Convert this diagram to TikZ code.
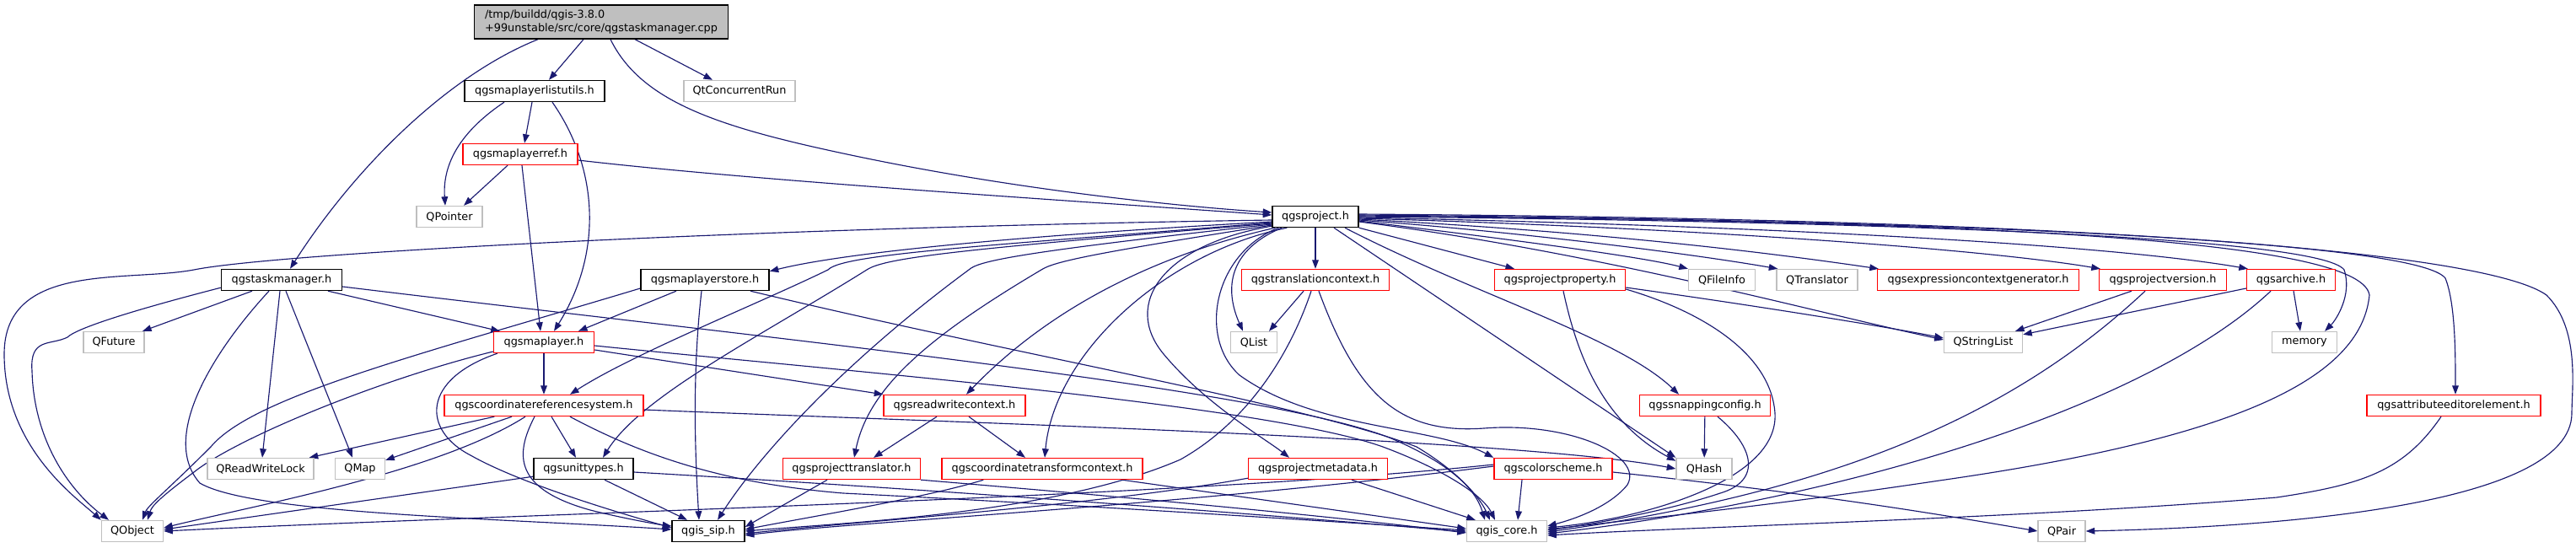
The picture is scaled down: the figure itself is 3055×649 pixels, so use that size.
\documentclass[tikz,border=0pt]{standalone}
\usepackage{fontspec}
\setmainfont{DejaVu Sans}
\usetikzlibrary{arrows.meta,calc,backgrounds}
\definecolor{edgec}{HTML}{191970}
\definecolor{lgray}{HTML}{BFBFBF}
\tikzset{
 nd/.style={draw, line width=0.8pt, inner sep=0pt, minimum height=0.5cm, font=\fontsize{7.3}{9.1}\selectfont, fill=white},
 bk/.style={nd, draw=black},
 rd/.style={nd, draw=red},
 gy/.style={nd, draw=lgray},
 bw/.style={minimum width=#1*0.02cm},
 e/.style={draw=edgec, line width=0.65pt, -{Triangle[length=6pt,width=4.4pt]}},
}
\begin{document}
\begin{tikzpicture}[x=0.02cm,y=-0.02cm]
\useasboundingbox (0,0) rectangle (3055,649);
% nodes
\node[bk,bw=301,minimum height=0.8cm,fill=lgray,align=left] (root) at (713,26) {/tmp/buildd/qgis-3.8.0\\+99unstable/src/core/qgstaskmanager.cpp};
\node[bk,bw=166] (mlu) at (634,108) {qgsmaplayerlistutils.h};
\node[gy,bw=132] (qcr) at (877,108) {QtConcurrentRun};
\node[rd,bw=136] (mlr) at (617,183) {qgsmaplayerref.h};
\node[gy,bw=78] (qptr) at (533,257) {QPointer};
\node[bk,bw=102] (proj) at (1560,257) {qgsproject.h};
\node[bk,bw=143] (tm) at (334,332) {qgstaskmanager.h};
\node[bk,bw=152] (mls) at (836,332) {qgsmaplayerstore.h};
\node[rd,bw=175] (tctx) at (1560,332) {qgstranslationcontext.h};
\node[rd,bw=155] (pprop) at (1850,332) {qgsprojectproperty.h};
\node[gy,bw=79] (qfi) at (2042,332) {QFileInfo};
\node[gy,bw=96] (qtr) at (2155,332) {QTranslator};
\node[rd,bw=239] (expr) at (2346,332) {qgsexpressioncontextgenerator.h};
\node[rd,bw=151] (pver) at (2565,332) {qgsprojectversion.h};
\node[rd,bw=105] (arch) at (2717,332) {qgsarchive.h};
\node[gy,bw=72] (qfut) at (135,406) {QFuture};
\node[rd,bw=119] (ml) at (645,406) {qgsmaplayer.h};
\node[gy,bw=55] (qlist) at (1487,406) {QList};
\node[gy,bw=93] (qsl) at (2352,406) {QStringList};
\node[gy,bw=77] (mem) at (2733,406) {memory};
\node[rd,bw=236] (crs) at (645,481) {qgscoordinatereferencesystem.h};
\node[rd,bw=168] (rwc) at (1132,481) {qgsreadwritecontext.h};
\node[rd,bw=155] (snap) at (2022,481) {qgssnappingconfig.h};
\node[rd,bw=206] (attr) at (2910,481) {qgsattributeeditorelement.h};
\node[gy,bw=126] (qrwl) at (309,556) {QReadWriteLock};
\node[gy,bw=59] (qmap) at (427,556) {QMap};
\node[bk,bw=118] (ut) at (692,556) {qgsunittypes.h};
\node[rd,bw=163] (ptr) at (1010,556) {qgsprojecttranslator.h};
\node[rd,bw=238] (ctc) at (1236,556) {qgscoordinatetransformcontext.h};
\node[rd,bw=165] (pmeta) at (1563,556) {qgsprojectmetadata.h};
\node[rd,bw=140] (cs) at (1842,556) {qgscolorscheme.h};
\node[gy,bw=66] (qhash) at (2021,556) {QHash};
\node[gy,bw=73] (qobj) at (157,630) {QObject};
\node[bk,bw=86] (sip) at (840,630) {qgis\_sip.h};
\node[gy,bw=95] (core) at (1787,630) {qgis\_core.h};
\node[gy,bw=56] (qpair) at (2445,630) {QPair};

\begin{pgfonlayer}{background}
% root
\draw[e] ($(root.south)+(-75,0)$) .. controls (530,90) and (420,200) .. ($(tm.north)+(10,0)$);
\draw[e] ($(root.south)+(-21,0)$) -- ($(mlu.north)+(17,0)$);
\draw[e] ($(root.south)+(40,0)$) -- ($(qcr.north)+(-32,0)$);
\draw[e] ($(root.south)+(11,0)$) .. controls (760,120) and (850,150) .. (1000,182) .. controls (1200,225) and (1400,245) .. ($(proj.west)+(0,-5)$);
% mlu
\draw[e] ($(mlu.south)+(-36,0)$) .. controls (540,160) and (525,200) .. ($(qptr.north)+(-5,0)$);
\draw[e] ($(mlu.south)+(-3,0)$) -- ($(mlr.north)+(5,0)$);
\draw[e] ($(mlu.south)+(21,0)$) .. controls (710,200) and (715,300) .. ($(ml.north)+(12,0)$);
% mlr
\draw[e] ($(mlr.south)+(-15,0)$) -- ($(qptr.north)+(17,0)$);
\draw[e] ($(mlr.south)+(2,0)$) -- ($(ml.north)+(-4,0)$);
\draw[e] ($(mlr.east)+(0,7)$) .. controls (900,215) and (1300,240) .. ($(proj.west)+(0,-2)$);
% proj
\draw[e] ($(proj.west)+(0,4)$) .. controls (900,270) and (330,300) .. (230,320) .. controls (150,335) and (5,310) .. (5,420) .. controls (5,530) and (90,590) .. ($(qobj.north west)+(0,0)$);
\draw[e] ($(proj.west)+(0,6)$) .. controls (1200,280) and (1000,300) .. ($(mls.north east)+(0,3)$);
\draw[e] ($(proj.west)+(0,7)$) .. controls (1200,290) and (1000,300) .. (982,320) .. controls (900,360) and (750,420) .. ($(crs.north)+(31,0)$);
\draw[e] ($(proj.west)+(0,8)$) .. controls (1150,295) and (1050,305) .. (1028,320) .. controls (900,400) and (760,470) .. ($(ut.north)+(23,0)$);
\draw[e] ($(proj.west)+(0,9)$) .. controls (1200,300) and (1160,310) .. (1149,320) .. controls (1000,430) and (900,540) .. ($(sip.north)+(11,0)$);
\draw[e] ($(proj.west)+(0,10)$) .. controls (1300,300) and (1250,310) .. (1235,320) .. controls (1100,400) and (1030,460) .. ($(ptr.north)+(3,0)$);
\draw[e] ($(proj.south west)+(4,0)$) .. controls (1380,300) and (1250,360) .. ($(rwc.north)+(14,0)$);
\draw[e] ($(proj.south west)+(18,0)$) .. controls (1380,300) and (1250,420) .. ($(ctc.north)+(3,0)$);
\draw[e] (proj) -- (tctx);
\draw[e] ($(proj.south)+(-40,0)$) .. controls (1450,300) and (1455,350) .. ($(qlist.north)+(-13,0)$);
\draw[e] ($(proj.south west)+(0,-2)$) .. controls (1380,290) and (1330,360) .. (1380,420) .. controls (1430,480) and (1500,520) .. ($(pmeta.north)+(-34,0)$);
\draw[e] ($(proj.south west)+(8,0)$) .. controls (1440,300) and (1420,400) .. (1470,445) .. controls (1560,510) and (1700,505) .. (cs.north west);
\draw[e] ($(proj.south)+(22,0)$) -- (qhash.north west);
\draw[e] (proj.south east) -- ($(pprop.north)+(-54,0)$);
\draw[e] ($(proj.south)+(35,0)$) .. controls (1750,350) and (1920,400) .. ($(snap.north)+(-31,0)$);
\draw[e] ($(proj.east)+(0,5)$) .. controls (1800,285) and (1950,305) .. (qfi.north west);
\draw[e] ($(proj.east)+(0,4)$) .. controls (1800,275) and (2000,300) .. ($(qtr.north west)+(2,0)$);
\draw[e] ($(proj.east)+(0,3)$) .. controls (1900,275) and (2100,300) .. ($(expr.north west)+(2,0)$);
\draw[e] ($(proj.east)+(0,2)$) .. controls (2000,270) and (2350,295) .. ($(pver.north west)+(2,0)$);
\draw[e] ($(proj.east)+(0,1)$) .. controls (2100,268) and (2500,290) .. ($(arch.north west)+(2,0)$);
\draw[e] ($(proj.east)+(0,6)$) .. controls (1900,300) and (2150,370) .. ($(qsl.west)+(0,-3)$);
\draw[e] ($(proj.east)+(0,0)$) .. controls (2200,262) and (2750,280) .. (2780,320) .. controls (2790,350) and (2770,380) .. ($(mem.north)+(24,0)$);
\draw[e] ($(proj.east)+(0,-1)$) .. controls (2300,262) and (2800,280) .. (2810,350) .. controls (2800,450) and (2650,520) .. (2300,570) .. controls (2100,600) and (1950,615) .. ($(core.east)+(0,-2)$);
\draw[e] ($(proj.east)+(0,-2)$) .. controls (2400,262) and (2870,290) .. (2900,330) .. controls (2912,360) and (2912,420) .. ($(attr.north)+(2,0)$);
\draw[e] ($(proj.east)+(0,-3)$) .. controls (2500,260) and (2950,300) .. (3020,350) .. controls (3060,390) and (3050,460) .. (3050,490) .. controls (3050,600) and (2700,625) .. (qpair.east);
% tm
\draw[e] ($(tm.south)+(-35,0)$) -- ($(qfut.north)+(34,0)$);
\draw[e] ($(tm.south west)+(0,-4)$) .. controls (150,370) and (90,390) .. (80,400) .. controls (60,410) and (35,400) .. (38,440) .. controls (40,520) and (80,580) .. ($(qobj.north)+(-28,0)$);
\draw[e] ($(tm.south)+(55,0)$) -- ($(ml.north west)+(8,0)$);
\draw[e] ($(tm.south)+(-15,0)$) .. controls (250,420) and (190,520) .. (237,573) .. controls (300,610) and (600,615) .. ($(sip.west)+(0,-2)$);
\draw[e] ($(tm.south)+(-2,0)$) -- ($(qrwl.north)+(2,0)$);
\draw[e] ($(tm.south)+(5,0)$) -- ($(qmap.north)+(-9,0)$);
\draw[e] ($(tm.east)+(0,8)$) .. controls (900,400) and (1500,460) .. (1650,520) .. controls (1720,550) and (1750,580) .. ($(core.north)+(-26,0)$);
% mls
\draw[e] ($(mls.south)+(-34,0)$) -- ($(ml.north)+(41,0)$);
\draw[e] ($(mls.west)+(0,10)$) .. controls (500,420) and (300,470) .. (250,530) .. controls (200,580) and (175,600) .. ($(qobj.north)+(12,0)$);
\draw[e] ($(mls.south)+(-4,0)$) .. controls (820,450) and (825,550) .. ($(sip.north)+(-11,0)$);
\draw[e] ($(mls.south)+(54,0)$) .. controls (1200,420) and (1550,480) .. (1680,530) .. controls (1730,560) and (1755,590) .. ($(core.north)+(-20,0)$);
% ml
\draw[e] (ml) -- (crs);
\draw[e] ($(ml.west)+(0,11)$) .. controls (450,450) and (280,520) .. (230,560) .. controls (190,590) and (180,600) .. ($(qobj.north)+(18,0)$);
\draw[e] ($(ml.south west)+(5,0)$) .. controls (500,450) and (500,510) .. (558,540) .. controls (620,575) and (740,610) .. ($(sip.west)+(0,-4)$);
\draw[e] ($(ml.east)+(0,9)$) -- (rwc.north west);
\draw[e] ($(ml.east)+(0,4)$) .. controls (1000,440) and (1500,480) .. (1640,530) .. controls (1720,560) and (1760,590) .. ($(core.north)+(-14,0)$);
% crs
\draw[e] ($(crs.south west)+(60,0)$) -- ($(qrwl.north east)+(-6,0)$);
\draw[e] ($(crs.south)+(-38,0)$) -- ($(qmap.north east)+(0,3)$);
\draw[e] ($(crs.south)+(-22,0)$) .. controls (520,560) and (300,600) .. ($(qobj.east)+(0,-4)$);
\draw[e] ($(crs.south)+(-11,0)$) .. controls (610,540) and (610,580) .. (700,605) .. controls (740,615) and (780,622) .. ($(sip.west)+(0,-6)$);
\draw[e] ($(crs.south)+(9,0)$) -- ($(ut.north)+(-9,0)$);
\draw[e] ($(crs.south)+(31,0)$) .. controls (780,550) and (880,575) .. (1000,585) .. controls (1300,600) and (1600,620) .. ($(core.west)+(0,-1)$);
\draw[e] ($(crs.east)+(0,5)$) .. controls (1100,500) and (1800,520) .. (qhash.west);
% ut
\draw[e] ($(ut.south west)+(0,-4)$) -- ($(qobj.east)+(0,-2)$);
\draw[e] ($(ut.south)+(25,0)$) -- ($(sip.north)+(-25,0)$);
\draw[e] ($(ut.east)+(0,4)$) .. controls (1100,580) and (1500,610) .. ($(core.west)+(0,1)$);
% rwc
\draw[e] ($(rwc.south)+(-21,0)$) -- ($(ptr.north)+(26,0)$);
\draw[e] ($(rwc.south)+(17,0)$) -- ($(ctc.north)+(-20,0)$);
% ptr
\draw[e] ($(ptr.south)+(-29,0)$) -- ($(sip.east)+(0,-5)$);
\draw[e] (ptr.south east) .. controls (1400,595) and (1600,615) .. ($(core.west)+(0,2)$);
% ctc
\draw[e] ($(ctc.south west)+(50,0)$) .. controls (1100,590) and (950,615) .. ($(sip.east)+(0,-2)$);
\draw[e] ($(ctc.south east)+(-25,0)$) -- ($(core.west)+(0,-3)$);
% tctx
\draw[e] ($(tctx.south)+(-14,0)$) -- ($(qlist.north)+(18,0)$);
\draw[e] ($(tctx.south)+(-5,0)$) .. controls (1530,420) and (1480,500) .. (1400,545) .. controls (1250,610) and (1000,620) .. ($(sip.east)+(0,0)$);
\draw[e] ($(tctx.south)+(4,0)$) .. controls (1610,470) and (1660,515) .. (1760,508) .. controls (1860,500) and (1950,540) .. (1930,575) .. controls (1910,600) and (1870,615) .. ($(core.east)+(0,-6)$);
% pmeta
\draw[e] ($(pmeta.south west)+(0,-2)$) .. controls (1300,600) and (1000,620) .. ($(sip.east)+(0,3)$);
\draw[e] ($(pmeta.south)+(40,0)$) -- ($(core.north west)+(11,0)$);
% cs
\draw[e] ($(cs.west)+(0,-5)$) .. controls (1400,590) and (600,610) .. ($(qobj.east)+(0,0)$);
\draw[e] ($(cs.west)+(0,-3)$) .. controls (1400,600) and (1000,620) .. ($(sip.east)+(0,5)$);
\draw[e] ($(cs.south)+(-37,0)$) -- ($(core.north)+(13,0)$);
\draw[e] ($(cs.east)+(0,4)$) .. controls (2150,585) and (2300,610) .. (qpair.west);
% pprop
\draw[e] ($(pprop.south)+(4,0)$) .. controls (1870,420) and (1900,500) .. ($(qhash.north west)+(0,4)$);
\draw[e] ($(pprop.east)+(0,9)$) .. controls (2100,365) and (2250,390) .. ($(qsl.west)+(0,-5)$);
\draw[e] ($(pprop.east)+(0,11)$) .. controls (2020,370) and (2100,420) .. (2105,490) .. controls (2110,570) and (1950,615) .. ($(core.east)+(0,-4)$);
% snap
\draw[e] (snap) -- (qhash);
\draw[e] ($(snap.south)+(15,0)$) .. controls (2080,530) and (2090,570) .. (2040,585) .. controls (1980,605) and (1900,620) .. ($(core.east)+(0,-1)$);
% pver
\draw[e] ($(pver.south)+(-37,0)$) -- ($(qsl.north)+(38,0)$);
\draw[e] ($(pver.south)+(-21,0)$) .. controls (2400,480) and (2200,580) .. ($(core.east)+(0,1)$);
% arch
\draw[e] ($(arch.west)+(0,10)$) -- ($(qsl.north east)+(0,4)$);
\draw[e] ($(arch.south)+(3,0)$) -- ($(mem.north)+(-5,0)$);
\draw[e] ($(arch.south)+(-24,0)$) .. controls (2550,480) and (2200,590) .. ($(core.east)+(0,3)$);
% attr
\draw[e] ($(attr.south)+(-15,0)$) .. controls (2850,560) and (2800,575) .. (2700,590) .. controls (2400,615) and (2000,625) .. ($(core.east)+(0,5)$);
\end{pgfonlayer}
\end{tikzpicture}
\end{document}
